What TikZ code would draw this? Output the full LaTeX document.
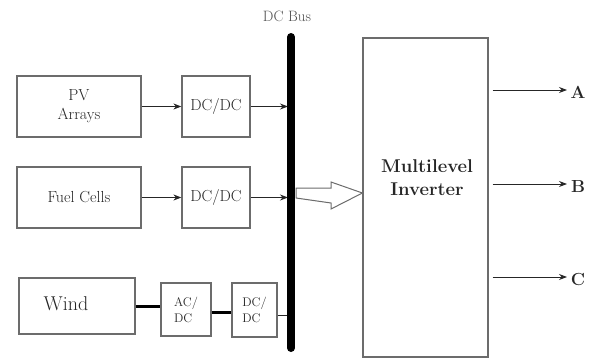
\documentclass[tikz,border=0pt]{standalone}
\usetikzlibrary{arrows.meta,calc}
\begin{document}
\begin{tikzpicture}[x=1pt,y=-1pt,
  blk/.style={draw=gray!85!black, line width=1.2pt, inner sep=0pt, text=black!85, font=\fontsize{16}{19}\selectfont, align=center},
  conn/.style={draw=black!85, line width=1pt, -{Stealth[length=8pt,width=6pt]}},
  thick conn/.style={draw=black, line width=3pt},
  lbl/.style={inner sep=0pt, text=black!85}]
\useasboundingbox (0,0) rectangle (598,359);
% boxes
\node[blk, minimum width=124pt, minimum height=61pt] (pv) at (79,106.5) {PV\\Arrays};
\node[blk, minimum width=68pt, minimum height=61pt] (dc1) at (216,106.5) {DC/DC};
\node[blk, minimum width=124pt, minimum height=61pt] (fc) at (79,197.5) {Fuel Cells};
\node[blk, minimum width=68pt, minimum height=61pt] (dc2) at (216,197.5) {DC/DC};
\node[blk, minimum width=116pt, minimum height=56pt] (wind) at (77,306) {};
\node[lbl, font=\fontsize{20}{22}\selectfont] (windlbl) at (66,304) {Wind};
\node[blk, minimum width=50pt, minimum height=53pt, font=\fontsize{12.5}{16}\selectfont, align=left] (acdc) at (186,309.5) {AC/\\DC};
\node[blk, minimum width=45pt, minimum height=54pt, font=\fontsize{12.5}{16}\selectfont, align=left] (dc3) at (254.5,310) {DC/\\DC};
\node[blk, minimum width=125pt, minimum height=319pt] (inv) at (425.5,197.5) {};
\node[lbl, align=center, font=\bfseries\fontsize{18.5}{23}\selectfont] (invlbl) at (427,178) {Multilevel\\Inverter};
% bus
\coordinate (bustop) at (291,37);
\coordinate (busbot) at (291,348);
\node[lbl, font=\fontsize{15}{17}\selectfont, text=black!70] (buslbl) at (287,16) {DC Bus};
% connectors
\draw[conn] (pv) -- (dc1);
\draw[conn] (fc) -- (dc2);
\draw[conn] (dc1.east) -- ([xshift=-3pt]dc1.east -| bustop);
\draw[conn] (dc2.east) -- ([xshift=-3pt]dc2.east -| bustop);
\draw[thick conn] (wind.east) -- (wind.east -| acdc.west);
\draw[thick conn] ([yshift=-2.5pt]acdc.east) -- ([yshift=-2.5pt]acdc.east -| dc3.west);
\draw[draw=black!85, line width=1pt] ([yshift=-5pt]dc3.east) -- ([yshift=-5pt]dc3.east -| bustop);
\draw[line width=8pt, line cap=round] (bustop) -- (busbot);
% hollow arrow
\coordinate (hs) at (296,193);
\draw[draw=gray!85!black, fill=white, line width=1pt, line join=miter]
  ($(hs)+(0,-5)$) -- ++(35,0) -- ++(0,-6) -- (inv.west |- hs) -- ($(hs)+(35,16)$) -- ++(0,-6) -- ($(hs)+(0,5)$) -- cycle;
% outputs
\node[lbl, font=\bfseries\fontsize{17.5}{20}\selectfont] (a) at (578,92) {A};
\node[lbl, font=\bfseries\fontsize{17.5}{20}\selectfont] (b) at (578,186) {B};
\node[lbl, font=\bfseries\fontsize{17.5}{20}\selectfont] (c) at (578,279) {C};
\draw[conn] ([xshift=4pt]inv.east |- 0,90) -- (567,90);
\draw[conn] ([xshift=4pt]inv.east |- 0,184) -- (567,184);
\draw[conn] ([xshift=4pt]inv.east |- 0,277) -- (567,277);
\end{tikzpicture}
\end{document}
